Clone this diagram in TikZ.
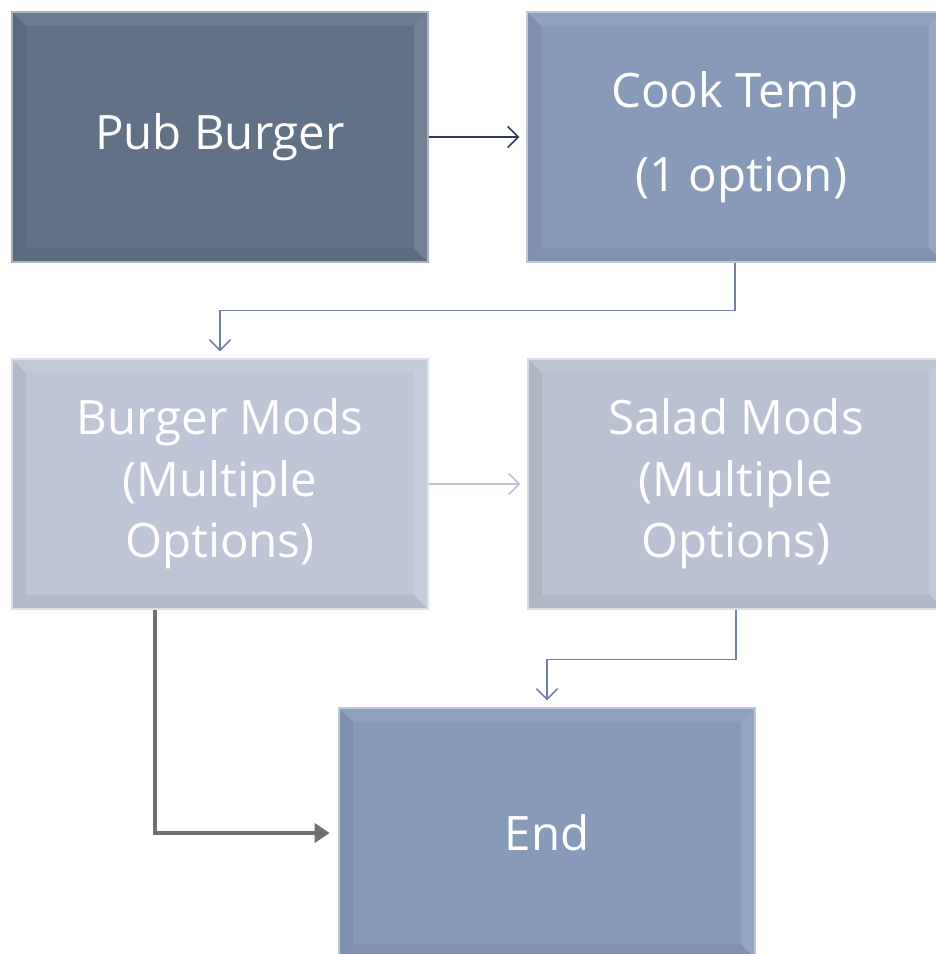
\documentclass[tikz,border=0pt]{standalone}
\usepackage{fontspec}
\setmainfont{Open Sans}
\usetikzlibrary{arrows.meta,positioning}
\definecolor{pubSlate}{RGB}{97,113,134}
\definecolor{cookBlue}{RGB}{135,154,184}
\definecolor{modsLilac}{RGB}{190,197,214}
\definecolor{saladLilac}{RGB}{186,193,210}
\definecolor{navyLine}{RGB}{45,58,88}
\definecolor{slateLine}{RGB}{112,128,166}
\definecolor{paleLine}{RGB}{190,192,214}
\definecolor{greyLine}{RGB}{112,112,112}

\begin{document}
\begin{tikzpicture}[x=0.02cm,y=-0.02cm,
    box/.style={rectangle,inner sep=0pt,minimum width=8.32cm,minimum height=5cm,align=center,
      text=white,font=\fontsize{27}{35}\selectfont,fill=#1,draw=#1!55!white,line width=0.8pt,
      path picture={
        \fill[white,opacity=0.07] (path picture bounding box.north west) -- (path picture bounding box.north east)
          -- ([shift={(-8pt,-8pt)}]path picture bounding box.north east) -- ([shift={(8pt,-8pt)}]path picture bounding box.north west) -- cycle;
        \fill[black,opacity=0.06] (path picture bounding box.north west) -- (path picture bounding box.south west)
          -- ([shift={(8pt,8pt)}]path picture bounding box.south west) -- ([shift={(8pt,-8pt)}]path picture bounding box.north west) -- cycle;
        \fill[white,opacity=0.12] (path picture bounding box.north east) -- (path picture bounding box.south east)
          -- ([shift={(-8pt,8pt)}]path picture bounding box.south east) -- ([shift={(-8pt,-8pt)}]path picture bounding box.north east) -- cycle;
        \fill[black,opacity=0.05] (path picture bounding box.south west) -- (path picture bounding box.south east)
          -- ([shift={(-8pt,8pt)}]path picture bounding box.south east) -- ([shift={(8pt,8pt)}]path picture bounding box.south west) -- cycle;
      }},
    arrow/.style={-{Straight Barb[length=6pt,width=12pt]},line width=0.85pt,draw=#1,shorten >=4pt},
    bigarrow/.style={-{Triangle[length=8.5pt,width=11pt]},line width=1.8pt,draw=greyLine,shorten >=5pt}
  ]
  \path[use as bounding box,clip] (0,0) rectangle (936,954);

  \node[box=pubSlate] (pub) at (220,137) {Pub Burger};
  \node[box=cookBlue] (cook) at (735,137) {Cook Temp\\[0.45cm]~(1 option)};
  \node[box=modsLilac] (burger) at (220,484) {Burger Mods\\(Multiple\\Options)};
  \node[box=saladLilac] (salad) at (736,484) {Salad Mods\\(Multiple\\Options)};
  \node[box=cookBlue] (end) at (547,833) {End};

  \draw[arrow=navyLine] (pub) -- (cook);
  \draw[arrow=slateLine] (cook.south) -- ++(0,48) -| (burger.north);
  \draw[arrow=paleLine] (burger) -- (salad);
  \draw[arrow=slateLine] (salad.south) -- ++(0,50) -| (end.north);
  \draw[bigarrow] ([xshift=-65*0.02cm]burger.south) |- (end.west);
\end{tikzpicture}
\end{document}
